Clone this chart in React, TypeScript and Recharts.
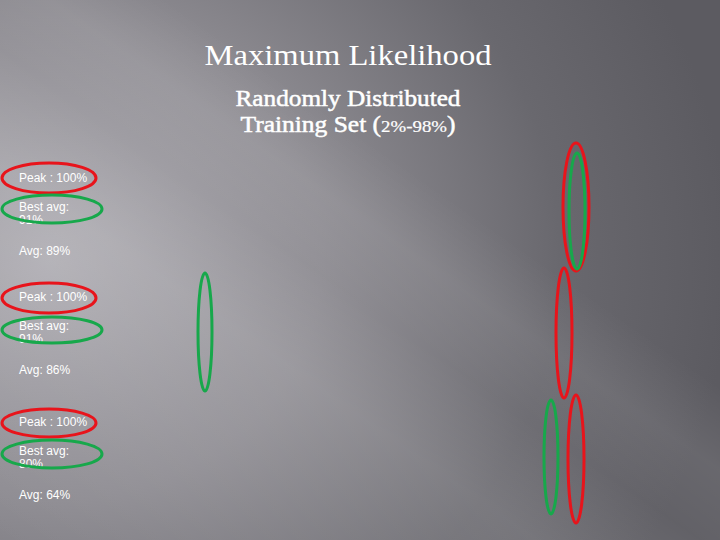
import { ScatterChart, Scatter, XAxis, YAxis } from "recharts"

// left-hand result rows, one per training run
const peakValues = [100, 100, 100]
const bestAvgValues = [91, 91, 80]
const avgValues = [89, 86, 64]

// hand-drawn rings in slide coordinates (720 x 540), half-widths rx / ry
const redRings = [
    { x: 49, y: 178, rx: 47, ry: 15 },
    { x: 49, y: 298, rx: 47, ry: 15 },
    { x: 49, y: 423, rx: 47, ry: 14 },
    { x: 576, y: 207, rx: 13, ry: 64 },
    { x: 564, y: 333, rx: 8, ry: 65 },
    { x: 576, y: 459, rx: 8, ry: 64 },
]
const greenRings = [
    { x: 52, y: 209, rx: 50, ry: 14 },
    { x: 52, y: 330, rx: 50, ry: 13 },
    { x: 52, y: 454, rx: 50, ry: 14 },
    { x: 577, y: 211, rx: 8, ry: 58 },
    { x: 205, y: 332, rx: 7, ry: 59 },
    { x: 551, y: 457, rx: 7, ry: 57 },
]

const W = 720
const H = 540
const rowBaselines = [182, 301, 426]

const ring = (color: string) => (props: any) => {
    const { cx, cy, payload } = props
    return (
        <ellipse
            cx={cx}
            cy={cy}
            rx={payload.rx}
            ry={payload.ry}
            fill="none"
            stroke={color}
            strokeWidth={3}
        />
    )
}

export default function App() {
    const sans = "'Liberation Sans', Arial, sans-serif"
    const serif = "'Liberation Serif', 'Times New Roman', serif"

    return (
        <div
            style={{
                position: "absolute",
                left: 0,
                top: 0,
                width: W,
                height: H,
                overflow: "hidden",
                background:
                    "linear-gradient(35deg, rgba(255,255,255,0) 0%, rgba(255,255,255,0.06) 16%, rgba(255,255,255,0.12) 36%, rgba(255,255,255,0.04) 47%, rgba(255,255,255,0.08) 55%, rgba(255,255,255,0) 63%)," +
                    "radial-gradient(ellipse 680px 600px at 50px 260px, #adabb1 0%, #8e8c92 40%, #69686e 75%, #5c5b61 100%)",
            }}
        >
            <svg width={W} height={H} style={{ position: "absolute", left: 0, top: 0 }}>
                <text x={348} y={65} textAnchor="middle" fontFamily={serif} fontSize={30} fill="#fff" textLength={287} lengthAdjust="spacingAndGlyphs">
                    Maximum Likelihood
                </text>
                <g fontFamily={serif} fill="#fff" stroke="#fff" strokeWidth={0.5}>
                    <text x={348} y={106} textAnchor="middle" fontSize={23} textLength={225} lengthAdjust="spacingAndGlyphs">
                        Randomly Distributed
                    </text>
                    <text x={348} y={132} textAnchor="middle" fontSize={23} textLength={215} lengthAdjust="spacingAndGlyphs">
                        Training Set (<tspan fontSize={17} strokeWidth={0.2}>2%-98%</tspan>)
                    </text>
                </g>
                {rowBaselines.map((b, i) => (
                    <g key={i} fontFamily={sans} fontSize={12} fill="#fff">
                        <text x={19} y={b}>{`Peak : ${peakValues[i]}%`}</text>
                        <text x={19} y={b + 29}>Best avg:</text>
                        <text x={19} y={b + 42}>{`${bestAvgValues[i]}%`}</text>
                        <text x={19} y={b + 73}>{`Avg: ${avgValues[i]}%`}</text>
                    </g>
                ))}
            </svg>
            <div style={{ position: "absolute", left: 0, top: 0 }}>
                <ScatterChart width={W} height={H} margin={{ top: 0, right: 0, bottom: 0, left: 0 }}>
                    <XAxis type="number" dataKey="x" domain={[0, W]} hide />
                    <YAxis type="number" dataKey="y" domain={[0, H]} reversed hide />
                    <Scatter data={redRings} shape={ring("#e8141b")} isAnimationActive={false} />
                    <Scatter data={greenRings} shape={ring("#17a84b")} isAnimationActive={false} />
                </ScatterChart>
            </div>
        </div>
    )
}
